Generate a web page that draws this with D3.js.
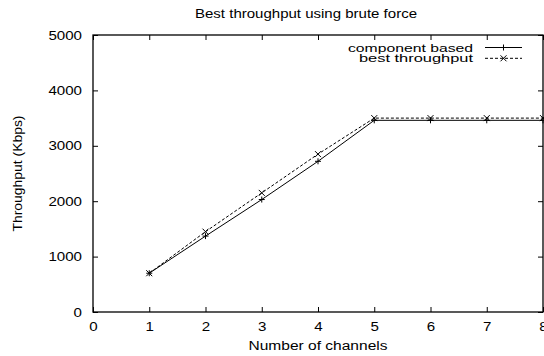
<!DOCTYPE html>
<html>
<head>
<meta charset="utf-8">
<script src="https://cdn.jsdelivr.net/npm/d3@7"></script>
<style>
  body { margin: 0; background: #fff; }
  text { font-family: "Liberation Sans", Arial, sans-serif; fill: #000; }
</style>
</head>
<body>
<div id="chart"></div>
<script>
// data
const channels = [1, 2, 3, 4, 5, 6, 7, 8]
const componentBased = [700, 1370, 2030, 2720, 3460, 3460, 3460, 3460]
const bestThroughput = [700, 1450, 2150, 2850, 3500, 3500, 3500, 3500]
const xTicks = [0, 1, 2, 3, 4, 5, 6, 7, 8]
const yTicks = [0, 1000, 2000, 3000, 4000, 5000]

var W = 544, H = 356
var margin = {top: 35, right: 1, bottom: 44, left: 93}
var width = W - margin.left - margin.right,
    height = H - margin.top - margin.bottom

var svg = d3.select("#chart").append("svg")
    .attr("width", W).attr("height", H)

var g = svg.append("g")
    .attr("transform", "translate(" + margin.left + "," + margin.top + ")")

var x = d3.scaleLinear().domain([0, 8]).range([0, width])
var y = d3.scaleLinear().domain([0, 5000]).range([height, 0])

// ticks inside the frame, gnuplot style (mirrored on top/right)
var tickLen = 5
g.append("g")
    .attr("transform", "translate(0," + height + ")")
    .call(d3.axisBottom(x).tickValues(xTicks).tickSize(-tickLen).tickPadding(10).tickFormat(d3.format("d")))
g.append("g")
    .call(d3.axisTop(x).tickValues(xTicks).tickSize(-tickLen).tickFormat(""))
g.append("g")
    .call(d3.axisLeft(y).tickValues(yTicks).tickSize(-tickLen).tickPadding(11).tickFormat(d3.format("d")))
g.append("g")
    .attr("transform", "translate(" + width + ",0)")
    .call(d3.axisRight(y).tickValues(yTicks).tickSize(-tickLen).tickFormat(""))

g.selectAll(".domain").remove()
g.selectAll(".tick line").attr("stroke", "#000").attr("stroke-width", 1)
g.selectAll(".tick text")
    .style("font-size", "12.5px")
    .style("font-family", "'Liberation Sans', Arial, sans-serif")
    .attr("textLength", function() { return this.textContent.length * 8.4 })
    .attr("lengthAdjust", "spacingAndGlyphs")

// frame
g.append("rect")
    .attr("x", 0).attr("y", 0)
    .attr("width", width).attr("height", height)
    .attr("fill", "none").attr("stroke", "#000").attr("stroke-width", 1.3)

// series
var series = [
    {name: "component based", values: componentBased, dash: null, marker: "plus", len: 125},
    {name: "best throughput", values: bestThroughput, dash: "3,2", marker: "cross", len: 114}
]

var line = d3.line()
    .x(function(d, i) { return x(channels[i]) })
    .y(function(d) { return y(d) })

function drawMarker(sel, type, cx, cy) {
    var s = 3
    if (type === "plus") {
        sel.append("path").attr("d", "M" + (cx - s) + "," + cy + "H" + (cx + s) + "M" + cx + "," + (cy - s) + "V" + (cy + s))
            .attr("stroke", "#000").attr("stroke-width", 1)
    } else {
        sel.append("path").attr("d", "M" + (cx - s) + "," + (cy - s) + "L" + (cx + s) + "," + (cy + s) + "M" + (cx - s) + "," + (cy + s) + "L" + (cx + s) + "," + (cy - s))
            .attr("stroke", "#000").attr("stroke-width", 1)
    }
}

series.forEach(function(s) {
    g.append("path")
        .datum(s.values)
        .attr("d", line)
        .attr("fill", "none")
        .attr("stroke", "#000")
        .attr("stroke-width", 1)
        .attr("stroke-dasharray", s.dash)
    var mg = g.append("g")
    s.values.forEach(function(v, i) { drawMarker(mg, s.marker, x(channels[i]), y(v)) })
})

// legend
var legend = svg.append("g")
series.forEach(function(s, i) {
    var ly = 47.5 + i * 10.8
    legend.append("text")
        .attr("x", 473).attr("y", ly + 4)
        .attr("text-anchor", "end")
        .style("font-size", "11.5px")
        .attr("textLength", s.len)
        .attr("lengthAdjust", "spacingAndGlyphs")
        .text(s.name)
    legend.append("line")
        .attr("x1", 485).attr("x2", 522).attr("y1", ly).attr("y2", ly)
        .attr("stroke", "#000").attr("stroke-width", 1)
        .attr("stroke-dasharray", s.dash)
    drawMarker(legend, s.marker, 503.5, ly)
})

// titles
svg.append("text")
    .attr("x", 306).attr("y", 18)
    .attr("text-anchor", "middle")
    .style("font-size", "12.5px")
    .attr("textLength", 222)
    .attr("lengthAdjust", "spacingAndGlyphs")
    .text("Best throughput using brute force")

svg.append("text")
    .attr("x", 318).attr("y", 350)
    .attr("text-anchor", "middle")
    .style("font-size", "12.5px")
    .attr("textLength", 139)
    .attr("lengthAdjust", "spacingAndGlyphs")
    .text("Number of channels")

svg.append("text")
    .attr("transform", "translate(22," + (margin.top + height / 2) + ") rotate(-90)")
    .attr("text-anchor", "middle")
    .style("font-size", "12.5px")
    .attr("textLength", 116)
    .attr("lengthAdjust", "spacingAndGlyphs")
    .text("Throughput (Kbps)")
</script>
</body>
</html>
